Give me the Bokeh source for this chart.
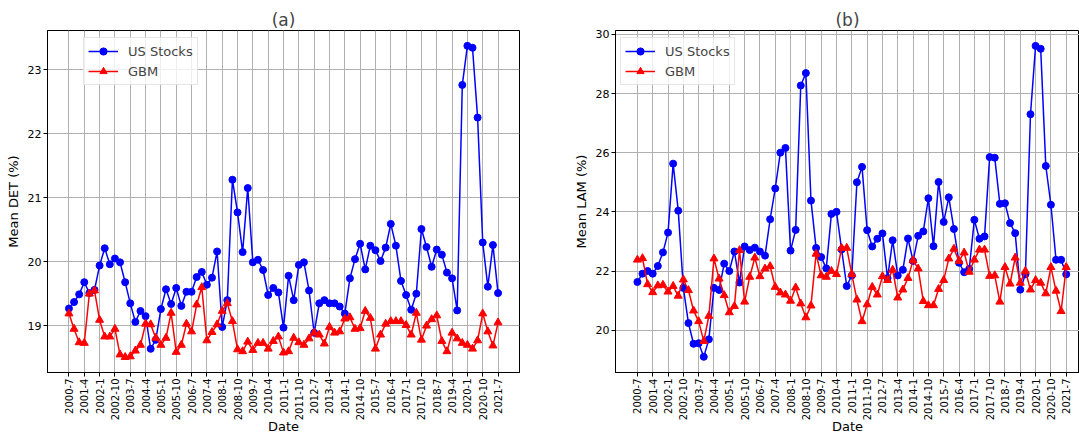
import math
from bokeh.plotting import figure
from bokeh.layouts import row
from bokeh.models import FixedTicker, Range1d, Legend, LegendItem, ColumnDataSource
from bokeh.embed import file_html
from bokeh.resources import INLINE

tick_labels = ["2000-7", "2001-4", "2002-1", "2002-10", "2003-7", "2004-4", "2005-1",
               "2005-10", "2006-7", "2007-4", "2008-1", "2008-10", "2009-7", "2010-4",
               "2011-1", "2011-10", "2012-7", "2013-4", "2014-1", "2014-10", "2015-7",
               "2016-4", "2017-1", "2017-10", "2018-7", "2019-4", "2020-1", "2020-10",
               "2021-7"]

us_det = [19.27, 19.37, 19.49, 19.68, 19.51, 19.56, 19.94, 20.21, 19.96, 20.05,
          19.99, 19.68, 19.35, 19.06, 19.23, 19.15, 18.64, 18.78, 19.26, 19.57,
          19.34, 19.59, 19.31, 19.53, 19.53, 19.76, 19.84, 19.64, 19.75, 20.16,
          18.98, 19.40, 21.28, 20.77, 20.15, 21.15, 19.99, 20.03, 19.87, 19.48,
          19.59, 19.52, 18.97, 19.78, 19.40, 19.95, 19.99, 19.55, 18.89, 19.35,
          19.40, 19.35, 19.35, 19.30, 19.19, 19.74, 20.04, 20.28, 19.88, 20.25,
          20.18, 20.01, 20.22, 20.59, 20.25, 19.70, 19.48, 19.25, 19.50, 20.51,
          20.23, 19.92, 20.19, 20.11, 19.83, 19.74, 19.24, 22.76, 23.37, 23.34,
          22.25, 20.30, 19.61, 20.26, 19.51]

gbm_det = [19.19, 18.95, 18.74, 18.73, 19.50, 19.55, 19.09, 18.83, 18.83, 18.95,
           18.55, 18.51, 18.52, 18.61, 18.70, 19.03, 19.02, 18.81, 18.70, 18.81,
           19.20, 18.59, 18.70, 19.03, 18.91, 19.33, 19.60, 18.77, 18.90, 19.02,
           19.23, 19.35, 19.07, 18.63, 18.60, 18.75, 18.62, 18.73, 18.73, 18.64,
           18.76, 18.83, 18.58, 18.60, 18.81, 18.74, 18.70, 18.80, 18.89, 18.86,
           18.72, 18.98, 18.89, 18.91, 19.11, 19.13, 18.95, 18.96, 19.23, 19.12,
           18.64, 18.86, 19.03, 19.07, 19.07, 19.07, 19.01, 18.86, 19.20, 18.78,
           19.00, 19.10, 19.16, 18.76, 18.60, 18.89, 18.80, 18.73, 18.70, 18.64,
           18.77, 19.19, 18.91, 18.69, 19.05]

us_lam = [21.63, 21.91, 22.00, 21.91, 22.17, 22.63, 23.30, 25.63, 24.04, 21.43,
          20.24, 19.54, 19.56, 19.10, 19.69, 21.43, 21.36, 22.25, 22.00, 22.66,
          21.61, 22.83, 22.71, 22.79, 22.66, 22.52, 23.75, 24.79, 26.00, 26.16,
          22.69, 23.39, 28.27, 28.69, 24.38, 22.78, 22.47, 22.09, 23.93, 24.00,
          22.73, 21.49, 21.85, 25.00, 25.52, 23.38, 22.83, 23.09, 23.27, 21.76,
          23.04, 21.85, 22.04, 23.10, 22.34, 23.19, 23.34, 24.46, 22.84, 25.01,
          23.66, 24.49, 23.42, 22.28, 21.96, 22.07, 23.73, 23.09, 23.17, 25.85,
          25.83, 24.27, 24.29, 23.62, 23.28, 21.37, 21.89, 27.30, 29.61, 29.51,
          25.55, 24.24, 22.38, 22.38, 21.89]

gbm_lam = [22.38, 22.43, 21.55, 21.28, 21.51, 21.53, 21.30, 21.49, 21.16, 21.71,
           21.35, 20.66, 20.30, 19.63, 20.48, 22.42, 21.74, 21.18, 20.60, 20.81,
           22.70, 20.96, 21.80, 22.45, 21.82, 22.08, 22.16, 21.46, 21.27, 21.20,
           20.99, 21.44, 20.90, 20.43, 20.83, 22.58, 21.85, 21.80, 22.00, 21.89,
           22.78, 22.78, 21.89, 21.03, 20.30, 20.87, 21.46, 21.20, 21.82, 21.69,
           22.04, 21.10, 21.37, 21.76, 22.36, 22.08, 20.98, 20.84, 20.84, 21.39,
           21.69, 22.42, 22.75, 22.34, 22.62, 21.97, 22.38, 22.72, 22.72, 21.83,
           21.85, 20.96, 22.13, 21.57, 22.45, 21.60, 22.00, 21.37, 21.69, 21.60,
           21.24, 22.13, 21.33, 20.64, 22.13]

x_idx = list(range(len(us_det)))
tick_pos = [3 * k for k in range(len(tick_labels))]

FONT = "DejaVu Sans"


def make_panel(title, ylabel, us, gbm, yr, yticks, xr, width, bl, br, leg_x):
    p = figure(width=width, height=440, x_range=Range1d(*xr), y_range=Range1d(*yr),
               output_backend="svg", toolbar_location=None,
               min_border_left=bl, min_border_right=br, min_border_top=30,
               min_border_bottom=68)
    p.title.text = title
    p.title.align = "center"
    p.title.text_font = FONT
    p.title.text_font_size = "17px"
    p.title.text_font_style = "normal"
    p.title.standoff = 2
    p.outline_line_color = "black"
    p.outline_line_width = 1
    p.background_fill_color = "white"
    p.border_fill_color = "white"

    src = ColumnDataSource(dict(x=x_idx, us=us, gbm=gbm))
    l1 = p.line("x", "us", source=src, line_color="#0000ff", line_width=1.5)
    s1 = p.scatter("x", "us", source=src, marker="circle", size=7,
                   fill_color="#0000ff", line_color="#0000ff")
    l2 = p.line("x", "gbm", source=src, line_color="#ff0000", line_width=1.5)
    s2 = p.scatter("x", "gbm", source=src, marker="triangle", size=8,
                   fill_color="#ff0000", line_color="#ff0000")

    p.xaxis.ticker = FixedTicker(ticks=tick_pos)
    p.xaxis.major_label_overrides = {t: lab for t, lab in zip(tick_pos, tick_labels)}
    p.xaxis.major_label_orientation = math.pi / 2
    p.yaxis.ticker = FixedTicker(ticks=yticks)
    for ax in (p.xaxis[0], p.yaxis[0]):
        ax.major_label_text_font = FONT
        ax.major_label_text_font_size = "11px"
        ax.major_label_text_color = "black"
        ax.axis_label_text_font = FONT
        ax.axis_label_text_font_size = "13px"
        ax.axis_label_text_font_style = "normal"
        ax.axis_label_text_color = "black"
        ax.axis_line_color = "black"
        ax.major_tick_line_color = "black"
        ax.major_tick_out = 4
        ax.major_tick_in = 0
        ax.minor_tick_line_color = None
        ax.major_label_standoff = 2
    p.xaxis.major_label_text_font_size = "10px"
    p.xaxis.axis_label = "Date"
    p.xaxis.axis_label_standoff = -4
    p.yaxis.axis_label = ylabel
    p.yaxis.axis_label_standoff = 4

    p.xgrid.grid_line_color = "#b0b0b0"
    p.ygrid.grid_line_color = "#b0b0b0"
    p.xgrid.grid_line_width = 1
    p.ygrid.grid_line_width = 1

    legend = Legend(items=[LegendItem(label="US Stocks", renderers=[l1, s1]),
                           LegendItem(label="GBM", renderers=[l2, s2])],
                    location=(leg_x, 287))
    legend.label_text_font = FONT
    legend.label_text_font_size = "13px"
    legend.glyph_width = 30
    legend.glyph_height = 18
    legend.label_height = 18
    legend.label_standoff = 10
    legend.spacing = 2
    legend.padding = 4
    legend.margin = 0
    legend.border_line_color = "#cccccc"
    legend.border_line_width = 1
    legend.background_fill_color = "white"
    legend.background_fill_alpha = 0.8
    p.add_layout(legend)
    return p


p1 = make_panel("(a)", "Mean DET (%)", us_det, gbm_det, (18.27, 23.61),
                [19, 20, 21, 22, 23], (-4.2, 88.2), 570, 47, 51, 36)
p2 = make_panel("(b)", "Mean LAM (%)", us_lam, gbm_lam, (18.57, 30.13),
                [20, 22, 24, 26, 28, 30], (-4.29, 86.6), 509, 43, 0, 5)

layout = row(p1, p2, spacing=0)
open("out.html", "w").write(file_html(layout, INLINE))
